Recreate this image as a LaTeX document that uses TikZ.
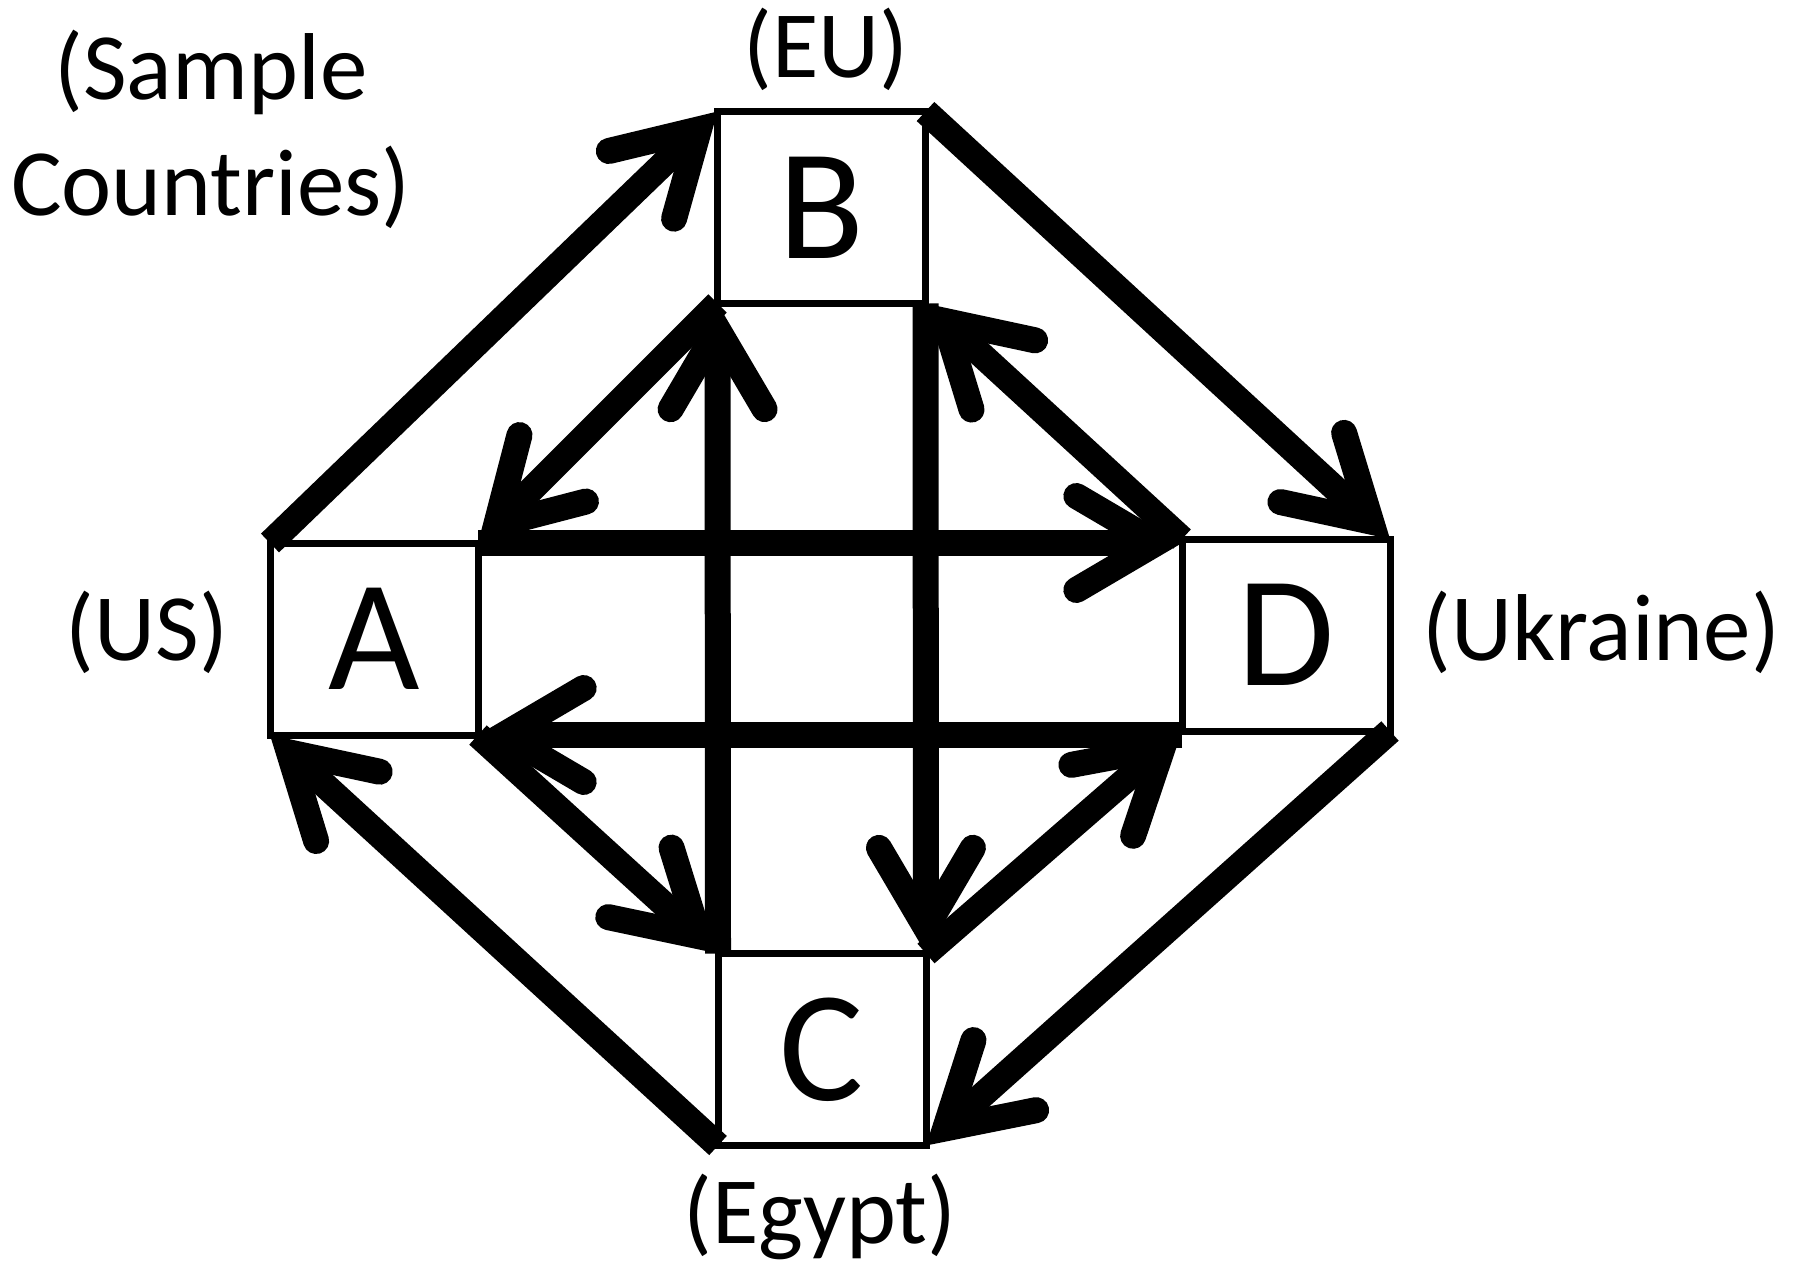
\documentclass[tikz,border=0pt]{standalone}
\usepackage{fontspec}
\setmainfont{Carlito}
\usetikzlibrary{arrows.meta}
\begin{document}
\begin{tikzpicture}[x=0.5pt,y=-0.5pt,
  box/.style={draw, line width=3.5pt, minimum width=104pt, minimum height=96pt,
    inner sep=0pt, outer sep=0pt, font=\fontsize{79}{95}\selectfont},
  lab/.style={inner sep=0pt, outer sep=0pt, anchor=base, font=\fontsize{47.5}{57.5}\selectfont},
  arr/.style={line width=13pt,
    -{Straight Barb[length=40pt, width=47pt, line cap=round, line join=miter]}}
]
\useasboundingbox (0,0) rectangle (1797,1268);
% boxes
\node[box] (A) at (374,639) {A};
\node[box] (B) at (821.5,207.5) {B};
\node[box] (C) at (822,1049.5) {C};
\node[box] (D) at (1286,635) {D};
% labels
\node[lab] (eu) at (826,78) {(EU)};
\node[lab] (us) at (147,660) {(US)};
\node[lab] (ua) at (1601,660) {(Ukraine)};
\node[lab] (eg) at (820,1243) {(Egypt)};
\node[lab] (s1) at (211,100) {(Sample};
\node[lab] (s2) at (211,215) {Countries)};
% outer arrows
\draw[arr] (A.north west) -- (B.north west);
\draw[arr] (B.north east) -- (D.north east);
\draw[arr] (D.south east) -- (C.south east);
\draw[arr] (C.south west) -- (A.south west);
% inner arrows
\draw[arr] (B.south west) -- (A.north east);
\draw[arr] (A.south east) -- (C.north west);
\draw[arr] (C.north east) -- (D.south west);
\draw[arr] (D.north west) -- (B.south east);
% horizontal and vertical arrows
\draw[arr] (A.north east) -- (A.north east -| D.west);
\draw[arr] (A.south east -| D.west) -- (A.south east);
\draw[arr] (C.north west) -- (B.south west);
\draw[arr] (B.south east) -- (C.north east);
\end{tikzpicture}
\end{document}
